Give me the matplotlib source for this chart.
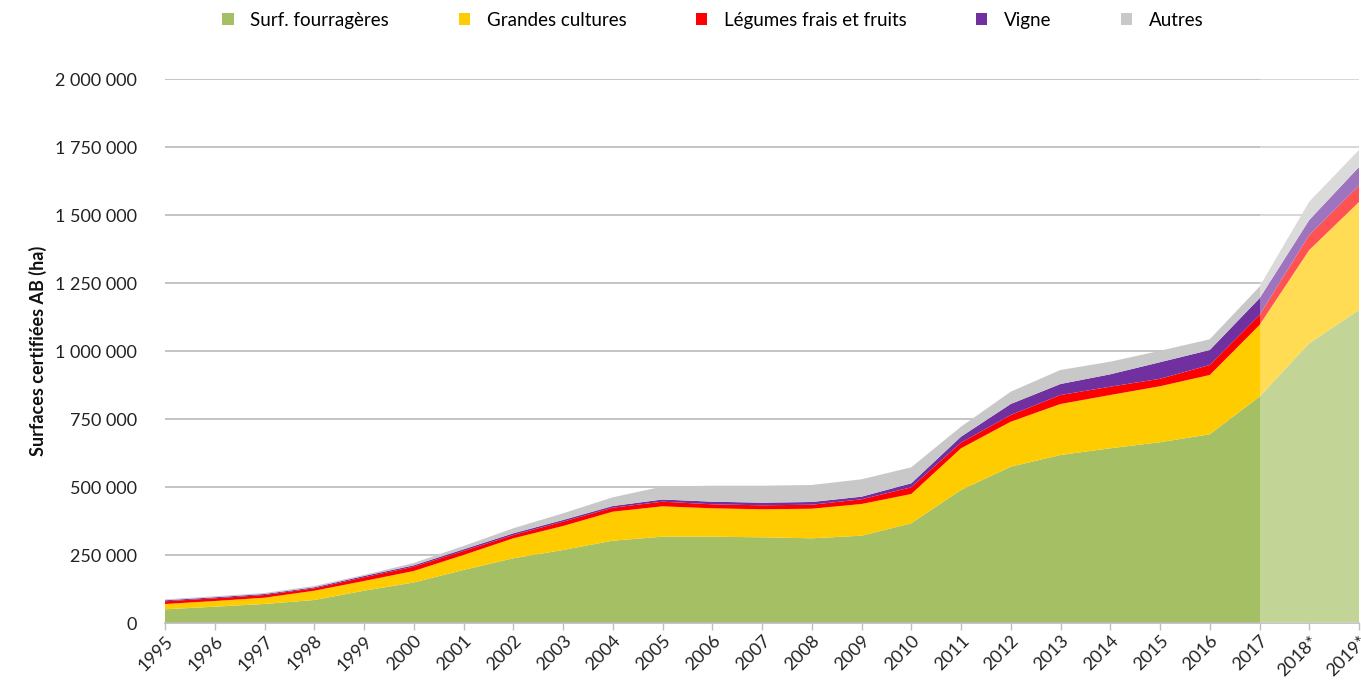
import matplotlib
matplotlib.use("Agg")
import matplotlib.pyplot as plt
from matplotlib.ticker import FuncFormatter, FixedLocator
from matplotlib.patches import Patch

years = ["1995", "1996", "1997", "1998", "1999", "2000", "2001", "2002", "2003",
         "2004", "2005", "2006", "2007", "2008", "2009", "2010", "2011", "2012",
         "2013", "2014", "2015", "2016", "2017", "2018*", "2019*"]

fourrageres = [50400, 60000, 69900, 84600, 118700, 148900, 194900, 237800, 268400,
               302600, 317400, 317300, 315100, 311400, 321000, 366500, 489000, 574700,
               617700, 642300, 664700, 693700, 832000, 1028300, 1150800]
grandes_cultures = [19400, 20900, 23100, 34100, 35700, 42300, 55100, 73500, 88200,
                    106700, 111600, 104400, 102900, 108800, 116500, 107800, 153300, 165400,
                    187500, 195900, 205800, 218100, 263600, 343000, 397000]
legumes_fruits = [10000, 9900, 9900, 8900, 13600, 15800, 14700, 12200, 15900,
                  14700, 17000, 14700, 14700, 14700, 17300, 24600, 20700, 24600,
                  33000, 30600, 27300, 36700, 36800, 55200, 60700]
vigne = [3700, 3700, 3700, 3600, 4800, 5100, 6200, 6200, 6200,
         6100, 8000, 9600, 9600, 10000, 9600, 14700, 22000, 40500,
         40500, 45500, 61000, 55100, 61200, 55100, 68000]
autres = [3500, 3700, 3700, 4800, 3700, 8500, 12200, 18400, 24500,
          31900, 47800, 58800, 62500, 62500, 63900, 58800, 36800, 45200,
          51500, 46400, 41900, 39400, 42900, 67400, 62500]

series_names = ["Surf. fourragères", "Grandes cultures", "Légumes frais et fruits", "Vigne", "Autres"]
colors = ["#a5c064", "#ffcc00", "#ff0000", "#7030a0", "#c8c8c8"]
y_ticks = [0, 250000, 500000, 750000, 1000000, 1250000, 1500000, 1750000, 2000000]

plt.rcParams['font.family'] = ['Lato', 'DejaVu Sans']

fig = plt.figure(figsize=(13.61, 6.92), dpi=100)
ax = fig.add_axes([165/1361, 1 - 623/692, (1359 - 165)/1361, (623 - 79)/692])

x = list(range(len(years)))
ax.stackplot(x, fourrageres, grandes_cultures, legumes_fruits, vigne, autres,
             colors=colors, linewidth=0, zorder=2)

ax.set_xlim(0, len(years) - 1)
ax.set_ylim(0, 2000000)
ax.yaxis.set_major_locator(FixedLocator(y_ticks))
ax.yaxis.set_major_formatter(FuncFormatter(lambda v, p: f"{int(v):,}".replace(",", " ")))
ax.grid(axis='y', color='#bababa', linewidth=1.2, zorder=1)
ax.set_axisbelow(True)

# lighter overlay for provisional years
ax.axvspan(years.index("2017"), len(years) - 1, color='white', alpha=0.33, zorder=3, linewidth=0)

ax.set_xticks(x)
ax.set_xticklabels(years, rotation=45, ha='right', rotation_mode='anchor', fontsize=13, color='#222222')
ax.tick_params(axis='x', length=5, color='#bfbfbf', width=1, pad=2)
ax.tick_params(axis='y', length=0, labelsize=13, labelcolor='#222222', pad=20)
for s in ['top', 'right', 'left']:
    ax.spines[s].set_visible(False)
ax.spines['bottom'].set_color('#bababa')
ax.spines['bottom'].set_linewidth(1.2)

ax.set_ylabel("Surfaces certifiées AB (ha)", fontsize=13, fontweight='bold', color='#111111', labelpad=6)

handles = [Patch(facecolor=c, edgecolor='none') for c in colors]
fig.legend(handles, series_names, loc='upper center', bbox_to_anchor=(0.524, 1.007), ncol=5,
           frameon=False, fontsize=13.5, handlelength=0.6, handleheight=0.6,
           columnspacing=3.7, handletextpad=0.9)

fig.savefig("out.png", dpi=100)
